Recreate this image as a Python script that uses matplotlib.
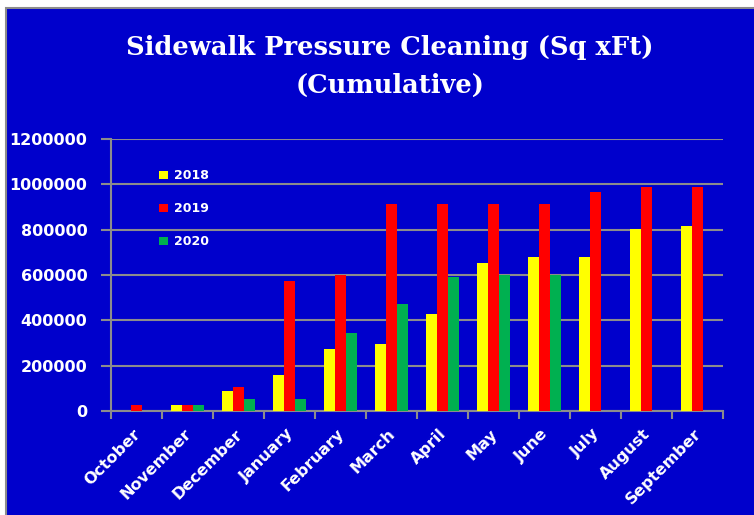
import matplotlib.pyplot as plt
import numpy as np
from matplotlib.patches import Rectangle
from matplotlib.transforms import ScaledTranslation

months = ["October", "November", "December", "January", "February", "March",
          "April", "May", "June", "July", "August", "September"]
y2018 = [0, 25000, 88000, 160000, 272000, 296000, 428000, 654000, 680000, 680000, 802000, 815000]
y2019 = [25000, 25000, 106000, 574000, 599000, 913000, 913000, 913000, 913000, 964000, 989000, 989000]
y2020 = [0, 25000, 51000, 51000, 344000, 471000, 589000, 599000, 599000, np.nan, np.nan, np.nan]
series_names = ["2018", "2019", "2020"]
yticks = [0, 200000, 400000, 600000, 800000, 1000000, 1200000]

bg = "#0000CC"
grid_col = "#8C8C8C"
colors = ["#FFFF00", "#FF0000", "#00B050"]

fig = plt.figure(figsize=(7.54, 5.15), dpi=100, facecolor="white")
# blue chart area with grey frame (only left/top edge visible, rest is cropped)
fig.patches.append(Rectangle((6 / 754, -0.05), 1.1, 1.05 - 8 / 515, transform=fig.transFigure,
                             facecolor=bg, edgecolor="#8C8C8C", linewidth=1.5, zorder=-1))

ax = fig.add_axes([111 / 754, 1 - 411 / 515, 612 / 754, 272 / 515])
ax.set_facecolor(bg)

x = np.arange(len(months))
w = 0.22
for i, (vals, name) in enumerate(zip([y2018, y2019, y2020], series_names)):
    ax.bar(x + (i - 1) * w, vals, width=w, color=colors[i], label=name, zorder=3)

ax.set_xlim(-0.5, len(months) - 0.5)
ax.set_ylim(0, 1200000)
ax.set_yticks(yticks)
ax.set_yticklabels([str(v) for v in yticks])
ax.yaxis.grid(True, color=grid_col, linewidth=1.5, zorder=0)

# tick marks between categories, labels at centers
ax.set_xticks(x)
ax.set_xticklabels(months, rotation=45, ha="right", rotation_mode="anchor")
ax.set_xticks(np.arange(len(months) + 1) - 0.5, minor=True)
ax.tick_params(axis="x", which="major", length=0, pad=11)
ax.tick_params(axis="x", which="minor", length=6, width=1.5, color=grid_col)
ax.tick_params(axis="y", length=7, width=1.5, color=grid_col, pad=10)
shift = ScaledTranslation(-4 / 100, 0, fig.dpi_scale_trans)
for lab in ax.get_xticklabels():
    lab.set_transform(lab.get_transform() + shift)
for lab in ax.get_xticklabels() + ax.get_yticklabels():
    lab.set_color("white")
    lab.set_fontweight("bold")
    lab.set_fontsize(11.5)

for side in ["top", "right"]:
    ax.spines[side].set_visible(False)
for side in ["left", "bottom"]:
    ax.spines[side].set_color(grid_col)
    ax.spines[side].set_linewidth(1.5)

leg = ax.legend(loc="upper left", bbox_to_anchor=(0.06, 0.93), frameon=False,
                labelspacing=1.6, handlelength=0.7, handleheight=0.7,
                handletextpad=0.5, prop={"weight": "bold", "size": 9})
for t in leg.get_texts():
    t.set_color("white")

fig.text(0.517, 1 - 47 / 515, "Sidewalk Pressure Cleaning (Sq xFt)", ha="center", va="center",
         color="white", fontsize=18.5, fontweight="bold", family="DejaVu Serif")
fig.text(0.517, 1 - 85 / 515, "(Cumulative)", ha="center", va="center",
         color="white", fontsize=18.5, fontweight="bold", family="DejaVu Serif")

fig.savefig("out.png", dpi=100, facecolor=fig.get_facecolor())
